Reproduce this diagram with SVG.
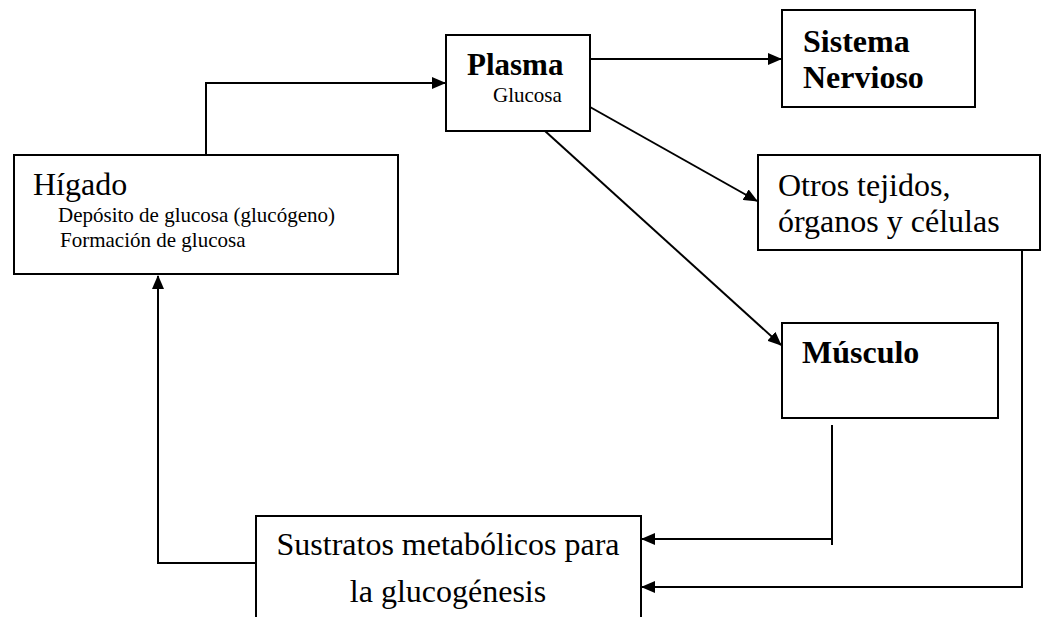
<svg xmlns="http://www.w3.org/2000/svg" width="1046" height="617" viewBox="0 0 1046 617">
<style>
.box{fill:#fff;stroke:#000;stroke-width:2}
.c{fill:none;stroke:#000;stroke-width:2}
</style>
<defs>
<marker id="ah" markerUnits="userSpaceOnUse" markerWidth="14" markerHeight="12" refX="13" refY="6" orient="auto">
<path d="M0,0 L14,6 L0,12 z" fill="#000"/>
</marker>
</defs>
<rect width="1046" height="617" fill="#fff"/>
<g id="connectors">
<path class="c" d="M206,155 V83 H445" marker-end="url(#ah)"/>
<path class="c" d="M590,59 H781" marker-end="url(#ah)"/>
<path class="c" d="M590,107 L757,201" marker-end="url(#ah)"/>
<path class="c" d="M545,131 L781,345" marker-end="url(#ah)"/>
<path class="c" d="M832,425 V545"/>
<path class="c" d="M832,539 H642" marker-end="url(#ah)"/>
<path class="c" d="M1022,250 V587 H642" marker-end="url(#ah)"/>
<path class="c" d="M256,563 H158 V276" marker-end="url(#ah)"/>
</g>
<g font-family="'Liberation Serif', 'Times New Roman', 'DejaVu Serif', serif" fill="#000">
<g id="higado">
<rect class="box" x="14" y="155" width="384" height="119"/>
<text x="33" y="195" font-size="32">Hígado</text>
<text x="58" y="222" font-size="21">Depósito de glucosa (glucógeno)</text>
<text x="60" y="247" font-size="21">Formación de glucosa</text>
</g>
<g id="plasma">
<rect class="box" x="446" y="35" width="144" height="96"/>
<text x="467" y="75" font-size="31" font-weight="bold">Plasma</text>
<text x="493" y="102" font-size="21">Glucosa</text>
</g>
<g id="sistema">
<rect class="box" x="782" y="10" width="193" height="97"/>
<text x="803" y="52" font-size="32" font-weight="bold">Sistema</text>
<text x="803" y="88" font-size="32" font-weight="bold">Nervioso</text>
</g>
<g id="otros">
<rect class="box" x="758" y="155" width="282" height="95"/>
<text x="778" y="196" font-size="32">Otros tejidos,</text>
<text x="778" y="232" font-size="32">órganos y células</text>
</g>
<g id="musculo">
<rect class="box" x="782" y="323" width="216" height="95"/>
<text x="802" y="363" font-size="32" font-weight="bold">Músculo</text>
</g>
<g id="sustratos">
<rect class="box" x="256" y="516" width="385" height="110"/>
<text x="448" y="555" font-size="32" text-anchor="middle">Sustratos metabólicos para</text>
<text x="448" y="602" font-size="32" text-anchor="middle">la glucogénesis</text>
</g>
</g>
</svg>
